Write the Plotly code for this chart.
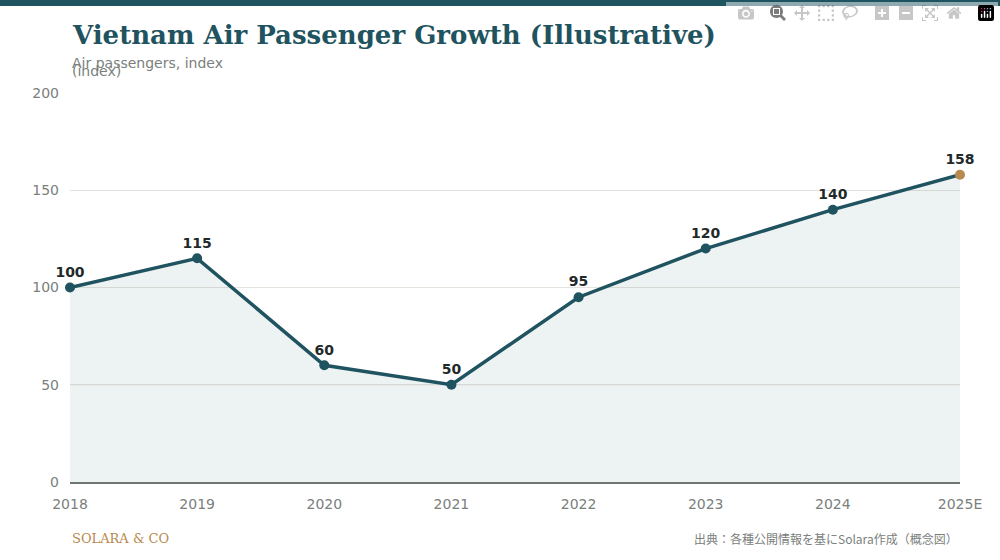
import plotly.graph_objects as go

years = ["2018", "2019", "2020", "2021", "2022", "2023", "2024", "2025E"]
values = [100, 115, 60, 50, 95, 120, 140, 158]
yticks = [0, 50, 100, 150, 200]

teal = "#1f5360"
gold = "#b88a4e"
colors = [teal] * (len(values) - 1) + [gold]

fig = go.Figure()
fig.add_trace(go.Scatter(x=list(range(len(years))), y=values, mode="lines+markers+text",
    line=dict(color=teal, width=3.5), fill="tozeroy", fillcolor="rgba(31,83,96,0.08)",
    marker=dict(color=colors, size=10), text=[str(v) for v in values],
    textposition="top center", textfont=dict(family="DejaVu Sans", size=14, color="#1f2a2a", weight="bold"),
    cliponaxis=False, hoverinfo="skip"))

fig.update_layout(
    width=1000, height=560, margin=dict(l=70, r=40, t=92, b=78),
    paper_bgcolor="white", plot_bgcolor="white", showlegend=False,
    font=dict(family="DejaVu Sans", color="#7a807c"),
    xaxis=dict(tickmode="array", tickvals=list(range(len(years))), ticktext=years,
               range=[0, len(years) - 1], showgrid=False, zeroline=False,
               showline=True, linecolor="#6f7773", linewidth=1.5, tickfont=dict(size=14, color="#7a807c"),
               ticks="", ticklabelstandoff=8),
    yaxis=dict(tickvals=yticks, range=[0, 200.5], gridcolor="#e6e3de", zeroline=False,
               tickfont=dict(size=14, color="#7a807c"), ticks="", ticklabelstandoff=10),
)
fig.add_shape(type="line", xref="paper", yref="y", x0=0, x1=1, y0=50, y1=50,
              line=dict(color="#e2d8c8", width=1), layer="below")
fig.add_shape(type="rect", xref="paper", yref="paper", x0=-70/890, x1=930/890,
              y0=(482 - 6) / 390, y1=482 / 390 + 0.01, fillcolor=teal, line=dict(width=0))

fig.add_annotation(text="<b>Vietnam Air Passenger Growth (Illustrative)</b>", xref="paper", yref="paper",
                   x=0, y=(482 - 35) / 390, xanchor="left", yanchor="middle", showarrow=False,
                   font=dict(family="DejaVu Serif", size=26, color=teal))
fig.add_annotation(text="Air passengers, index", xref="paper", yref="paper", x=0, y=(482 - 63) / 390,
                   xanchor="left", yanchor="middle", showarrow=False, font=dict(size=14, color="#7a807c"))
fig.add_annotation(text="(index)", xref="paper", yref="paper", x=0, y=(482 - 71) / 390,
                   xanchor="left", yanchor="middle", showarrow=False, font=dict(size=14, color="#7a807c"))
fig.add_annotation(text="SOLARA &amp; CO", xref="paper", yref="paper", x=0, y=(482 - 538) / 390,
                   xanchor="left", yanchor="middle", showarrow=False,
                   font=dict(family="DejaVu Serif", size=13, color=gold))
fig.add_annotation(text="出典：各種公開情報を基にSolara作成（概念図）", xref="paper", yref="paper", x=1,
                   y=(482 - 538) / 390, xanchor="right", yanchor="middle", showarrow=False,
                   font=dict(family="Noto Sans CJK JP", size=12, color="#7a807c"))

fig.write_html("out.html", post_script="document.body.style.margin='0';document.body.style.padding='0';")
